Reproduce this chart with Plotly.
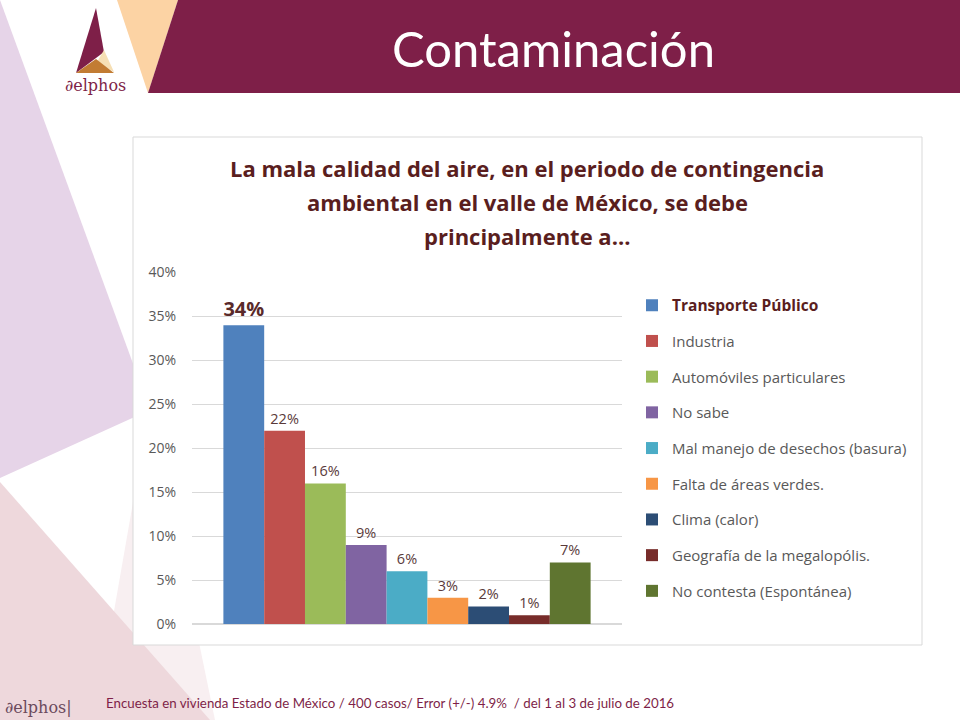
import plotly.graph_objects as go

# ---------------- data ----------------
categories = [
    "Transporte Público",
    "Industria",
    "Automóviles particulares",
    "No sabe",
    "Mal manejo de desechos (basura)",
    "Falta de áreas verdes.",
    "Clima (calor)",
    "Geografía de la megalopólis.",
    "No contesta (Espontánea)",
]
values = [34, 22, 16, 9, 6, 3, 2, 1, 7]
colors = ["#4f81bd", "#c0504d", "#9bbb59", "#8064a2", "#4bacc6",
          "#f79646", "#2c4d75", "#772c2a", "#5f7530"]
y_ticks = [0, 5, 10, 15, 20, 25, 30, 35, 40]
slide_title = "Contaminación"
chart_title_lines = [
    "La mala calidad del aire, en el periodo de contingencia",
    "ambiental en el valle de México, se debe",
    "principalmente a...",
]
footer = ("Encuesta en vivienda Estado de México / 400 casos/ Error (+/-) 4.9%  "
          "/ del 1 al 3 de julio de 2016")

W, H = 960, 720
FONT = "'Open Sans', sans-serif"
TFONT = "Lato, sans-serif"


def px(x):
    return x / W


def py(y):
    return 1 - y / H


def path(pts):
    return "M " + " L ".join(f"{px(a):.5f},{py(b):.5f}" for a, b in pts) + " Z"


fig = go.Figure()

for i, (cat, val, col) in enumerate(zip(categories, values, colors)):
    if i == 0:
        name = "<b><span style='font-size:15.5px;color:#5a1e1e'>" + cat + "</span></b>"
        txt = f"<b>{val}%</b>"
        tfont = dict(size=20, color="#5a2a2a", family=FONT)
    else:
        name = cat
        txt = f"{val}%"
        tfont = dict(size=14.5, color="#5a3a3a", family=FONT)
    fig.add_trace(go.Bar(
        x=["c"], y=[val], name=name, marker=dict(color=col, line=dict(width=0)),
        text=[txt], textposition="outside", textfont=tfont, cliponaxis=False,
        legendgroup=f"g{i}", hoverinfo="skip",
    ))

shapes = []
# background decorative polygons
shapes.append(dict(type="path", xref="paper", yref="paper", layer="below",
                   path=path([(0, 0), (150, 410), (0, 478)]),
                   fillcolor="#e6d4e8", line=dict(width=0)))
shapes.append(dict(type="path", xref="paper", yref="paper", layer="below",
                   path=path([(150, 405), (95, 720), (215, 720)]),
                   fillcolor="#f8eff1", line=dict(width=0)))
shapes.append(dict(type="path", xref="paper", yref="paper", layer="below",
                   path=path([(0, 482), (210, 720), (0, 720)]),
                   fillcolor="#eed8dc", line=dict(width=0)))
# header band
shapes.append(dict(type="path", xref="paper", yref="paper", layer="below",
                   path=path([(117, 0), (178, 0), (148, 93)]),
                   fillcolor="#fcd3a4", line=dict(width=0)))
shapes.append(dict(type="path", xref="paper", yref="paper", layer="below",
                   path=path([(178, 0), (960, 0), (960, 93), (148, 93)]),
                   fillcolor="#7e1f48", line=dict(width=0)))
# logo
shapes.append(dict(type="path", xref="paper", yref="paper", layer="below",
                   path=path([(96, 8), (104, 52), (76, 73)]),
                   fillcolor="#7e1f48", line=dict(width=0)))
shapes.append(dict(type="path", xref="paper", yref="paper", layer="below",
                   path=path([(104, 50), (114, 72), (97, 62)]),
                   fillcolor="#f6dfb4", line=dict(width=0)))
shapes.append(dict(type="path", xref="paper", yref="paper", layer="below",
                   path=path([(76, 73), (96, 59), (114, 73)]),
                   fillcolor="#c27c33", line=dict(width=0)))
# chart box
shapes.append(dict(type="rect", xref="paper", yref="paper", layer="below",
                   x0=px(133), x1=px(922), y0=py(645), y1=py(137),
                   fillcolor="white", line=dict(color="#d9d9d9", width=1)))
fig.update_layout(shapes=shapes)

annotations = [
    dict(text=slide_title, x=px(553), y=py(48), xref="paper", yref="paper",
         showarrow=False, xanchor="center", yanchor="middle",
         font=dict(size=49, color="white", family=TFONT)),
    dict(text="∂elphos", x=px(95), y=py(85), xref="paper", yref="paper",
         showarrow=False, xanchor="center", yanchor="middle",
         font=dict(size=16, color="#7e1f48", family="'DejaVu Serif', serif")),
    dict(text=footer, x=px(104), y=py(703), xref="paper", yref="paper",
         showarrow=False, xanchor="left", yanchor="middle",
         font=dict(size=13.3, color="#7e1f48", family=TFONT)),
    dict(text="∂elphos|", x=px(3), y=py(707), xref="paper", yref="paper",
         showarrow=False, xanchor="left", yanchor="middle",
         font=dict(size=16, color="#6b4a5c", family="'DejaVu Serif', serif")),
]
for k, (line, yy) in enumerate(zip(chart_title_lines, [168, 202, 236])):
    annotations.append(dict(text="<b>" + line + "</b>", x=px(527), y=py(yy),
                            xref="paper", yref="paper", showarrow=False,
                            xanchor="center", yanchor="middle",
                            font=dict(size=22, color="#5a1e1e", family=FONT)))
fig.update_layout(annotations=annotations)

fig.update_layout(
    width=W, height=H,
    margin=dict(l=0, r=0, t=0, b=0, autoexpand=False),
    paper_bgcolor="white",
    plot_bgcolor="rgba(0,0,0,0)",
    barmode="group", bargap=0.146, bargroupgap=0,
    font=dict(family=FONT, color="#595959"),
    xaxis=dict(domain=[px(192), px(622)], showticklabels=False, showgrid=False,
               zeroline=False, showline=False, fixedrange=True, automargin=False),
    yaxis=dict(domain=[py(624), py(272)], range=[0, 40.05], tickvals=y_ticks,
               ticktext=[f"{v}%" for v in y_ticks], showgrid=True,
               gridcolor="#d9d9d9", gridwidth=1, zeroline=True,
               zerolinecolor="#d9d9d9", showline=False, automargin=False,
               tickfont=dict(size=14, color="#595959", family=FONT),
               ticklabelstandoff=15, fixedrange=True),
    legend=dict(x=px(632), y=py(289), xanchor="left", yanchor="top",
                bgcolor="rgba(0,0,0,0)", tracegroupgap=13.2,
                font=dict(size=15, color="#595959", family=FONT),
                itemclick=False, itemdoubleclick=False),
    showlegend=True,
)

fig.write_html("out.html")
